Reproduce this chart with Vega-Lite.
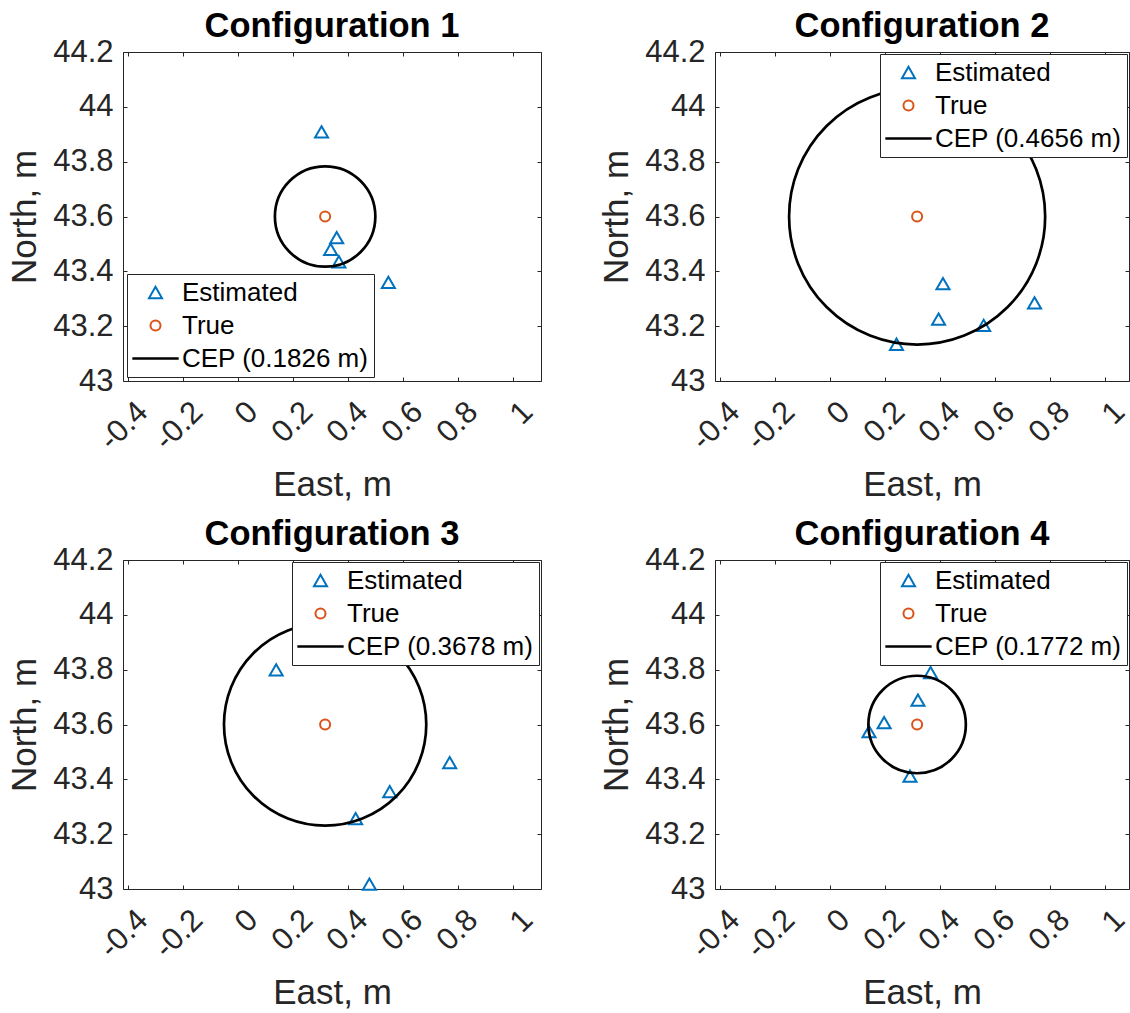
{
  "$schema": "https://vega.github.io/schema/vega-lite/v6.json",
  "background": "white",
  "padding": {"left": 7, "top": 8, "right": 0, "bottom": 0},
  "datasets": {
    "pts": [
      {"cfg": 1, "kind": "est", "series": "Estimated", "east": 0.305, "north": 43.909},
      {"cfg": 1, "kind": "est", "series": "Estimated", "east": 0.360, "north": 43.523},
      {"cfg": 1, "kind": "est", "series": "Estimated", "east": 0.338, "north": 43.480},
      {"cfg": 1, "kind": "est", "series": "Estimated", "east": 0.368, "north": 43.435},
      {"cfg": 1, "kind": "est", "series": "Estimated", "east": 0.548, "north": 43.360},
      {"cfg": 1, "kind": "true", "series": "True", "east": 0.318, "north": 43.6},
      {"cfg": 1, "kind": "cep", "series": "CEP (0.1826 m)", "east": 0.318, "north": 43.6, "cep": 0.1826},
      {"cfg": 2, "kind": "est", "series": "Estimated", "east": 0.243, "north": 43.134},
      {"cfg": 2, "kind": "est", "series": "Estimated", "east": 0.412, "north": 43.355},
      {"cfg": 2, "kind": "est", "series": "Estimated", "east": 0.396, "north": 43.226},
      {"cfg": 2, "kind": "est", "series": "Estimated", "east": 0.560, "north": 43.203},
      {"cfg": 2, "kind": "est", "series": "Estimated", "east": 0.745, "north": 43.285},
      {"cfg": 2, "kind": "true", "series": "True", "east": 0.318, "north": 43.6},
      {"cfg": 2, "kind": "cep", "series": "CEP (0.4656 m)", "east": 0.318, "north": 43.6, "cep": 0.4656},
      {"cfg": 3, "kind": "est", "series": "Estimated", "east": 0.140, "north": 43.799},
      {"cfg": 3, "kind": "est", "series": "Estimated", "east": 0.771, "north": 43.461},
      {"cfg": 3, "kind": "est", "series": "Estimated", "east": 0.553, "north": 43.355},
      {"cfg": 3, "kind": "est", "series": "Estimated", "east": 0.429, "north": 43.257},
      {"cfg": 3, "kind": "est", "series": "Estimated", "east": 0.479, "north": 43.018},
      {"cfg": 3, "kind": "true", "series": "True", "east": 0.318, "north": 43.6},
      {"cfg": 3, "kind": "cep", "series": "CEP (0.3678 m)", "east": 0.318, "north": 43.6, "cep": 0.3678},
      {"cfg": 4, "kind": "est", "series": "Estimated", "east": 0.367, "north": 43.789},
      {"cfg": 4, "kind": "est", "series": "Estimated", "east": 0.321, "north": 43.689},
      {"cfg": 4, "kind": "est", "series": "Estimated", "east": 0.198, "north": 43.607},
      {"cfg": 4, "kind": "est", "series": "Estimated", "east": 0.143, "north": 43.574},
      {"cfg": 4, "kind": "est", "series": "Estimated", "east": 0.292, "north": 43.412},
      {"cfg": 4, "kind": "true", "series": "True", "east": 0.318, "north": 43.6},
      {"cfg": 4, "kind": "cep", "series": "CEP (0.1772 m)", "east": 0.318, "north": 43.6, "cep": 0.1772}
    ]
  },
  "columns": 2,
  "bounds": "flush",
  "spacing": {"row": 179, "column": 174},
  "concat": [
    {
      "width": 418, "height": 329,
      "title": "Configuration 1",
      "data": {"name": "pts"},
      "transform": [{"filter": "datum.cfg === 1"}],
      "layer": [
        {
          "transform": [{"filter": "datum.kind === 'est'"}],
          "mark": {"type": "point", "filled": false, "size": 170, "strokeWidth": 2, "opacity": 1},
          "encoding": {
            "x": {"field": "east", "type": "quantitative", "scale": {"domain": [-0.417, 1.103], "nice": false, "zero": false},
              "axis": {"orient": "bottom", "values": [-0.4, -0.2, 0, 0.2, 0.4, 0.6, 0.8, 1], "labelAngle": -45, "labelAlign": "right", "labelBaseline": "middle", "labelOffset": 15, "labelPadding": 30, "labelFlush": false, "labelOverlap": false, "labelExpr": "replace(format(datum.value, '.1~f'), '\u2212', '-')", "title": "East, m", "titleY": 114, "titleBaseline": "alphabetic"}},
            "y": {"field": "north", "type": "quantitative", "scale": {"domain": [43, 44.2], "nice": false, "zero": false},
              "axis": {"orient": "left", "values": [43, 43.2, 43.4, 43.6, 43.8, 44, 44.2], "format": ".1~f", "labelPadding": 14, "labelFlush": false, "labelOverlap": false, "title": "North, m", "titleX": -88, "titleBaseline": "alphabetic"}},
            "color": {"field": "series", "type": "nominal", "title": null, "scale": {"domain": ["Estimated", "True", "CEP (0.1826 m)"], "range": ["#0072BD", "#D95319", "#000000"]},
              "legend": {"title": null, "orient": "bottom-left", "offset": 4, "direction": "vertical"}},
            "shape": {"field": "series", "type": "nominal", "title": null, "scale": {"domain": ["Estimated", "True", "CEP (0.1826 m)"], "range": ["triangle-up", "M0.77,0A0.77,0.77,0,1,1,-0.77,0A0.77,0.77,0,1,1,0.77,0Z", "M-3.4,-0.05H3.4V0.05H-3.4Z"]}}
          }
        },
        {
          "transform": [{"filter": "datum.kind === 'true'"}],
          "mark": {"type": "point", "filled": false, "size": 170, "strokeWidth": 2, "opacity": 1},
          "encoding": {
            "x": {"field": "east", "type": "quantitative", "axis": {"orient": "top", "values": [-0.4, -0.2, 0, 0.2, 0.4, 0.6, 0.8, 1], "labels": false, "title": null}},
            "y": {"field": "north", "type": "quantitative", "axis": {"orient": "right", "values": [43, 43.2, 43.4, 43.6, 43.8, 44, 44.2], "labels": false, "title": null}},
            "color": {"field": "series", "type": "nominal", "title": null},
            "shape": {"field": "series", "type": "nominal", "title": null}
          }
        },
        {
          "transform": [{"filter": "datum.kind === 'cep'"}],
          "mark": {"type": "point", "shape": "circle", "filled": false, "strokeWidth": 2.7, "opacity": 1},
          "encoding": {
            "x": {"field": "east", "type": "quantitative", "axis": null},
            "y": {"field": "north", "type": "quantitative", "axis": null},
            "color": {"field": "series", "type": "nominal", "title": null},
            "size": {"field": "cep", "type": "quantitative", "legend": null, "scale": {"type": "pow", "exponent": 2, "domain": [0, 1], "range": [0, 302500]}}
          }
        }
      ],
      "resolve": {"axis": {"x": "independent", "y": "independent"}}
    },
    {
      "width": 414, "height": 329,
      "title": "Configuration 2",
      "data": {"name": "pts"},
      "transform": [{"filter": "datum.cfg === 2"}],
      "layer": [
        {
          "transform": [{"filter": "datum.kind === 'est'"}],
          "mark": {"type": "point", "filled": false, "size": 170, "strokeWidth": 2, "opacity": 1},
          "encoding": {
            "x": {"field": "east", "type": "quantitative", "scale": {"domain": [-0.417, 1.0885], "nice": false, "zero": false},
              "axis": {"orient": "bottom", "values": [-0.4, -0.2, 0, 0.2, 0.4, 0.6, 0.8, 1], "labelAngle": -45, "labelAlign": "right", "labelBaseline": "middle", "labelOffset": 15, "labelPadding": 30, "labelFlush": false, "labelOverlap": false, "labelExpr": "replace(format(datum.value, '.1~f'), '\u2212', '-')", "title": "East, m", "titleY": 114, "titleBaseline": "alphabetic"}},
            "y": {"field": "north", "type": "quantitative", "scale": {"domain": [43, 44.2], "nice": false, "zero": false},
              "axis": {"orient": "left", "values": [43, 43.2, 43.4, 43.6, 43.8, 44, 44.2], "format": ".1~f", "labelPadding": 14, "labelFlush": false, "labelOverlap": false, "title": "North, m", "titleX": -88, "titleBaseline": "alphabetic"}},
            "color": {"field": "series", "type": "nominal", "title": null, "scale": {"domain": ["Estimated", "True", "CEP (0.4656 m)"], "range": ["#0072BD", "#D95319", "#000000"]},
              "legend": {"title": null, "orient": "top-right", "offset": 2, "direction": "vertical"}},
            "shape": {"field": "series", "type": "nominal", "title": null, "scale": {"domain": ["Estimated", "True", "CEP (0.4656 m)"], "range": ["triangle-up", "M0.77,0A0.77,0.77,0,1,1,-0.77,0A0.77,0.77,0,1,1,0.77,0Z", "M-3.4,-0.05H3.4V0.05H-3.4Z"]}}
          }
        },
        {
          "transform": [{"filter": "datum.kind === 'true'"}],
          "mark": {"type": "point", "filled": false, "size": 170, "strokeWidth": 2, "opacity": 1},
          "encoding": {
            "x": {"field": "east", "type": "quantitative", "axis": {"orient": "top", "values": [-0.4, -0.2, 0, 0.2, 0.4, 0.6, 0.8, 1], "labels": false, "title": null}},
            "y": {"field": "north", "type": "quantitative", "axis": {"orient": "right", "values": [43, 43.2, 43.4, 43.6, 43.8, 44, 44.2], "labels": false, "title": null}},
            "color": {"field": "series", "type": "nominal", "title": null},
            "shape": {"field": "series", "type": "nominal", "title": null}
          }
        },
        {
          "transform": [{"filter": "datum.kind === 'cep'"}],
          "mark": {"type": "point", "shape": "circle", "filled": false, "strokeWidth": 2.7, "opacity": 1},
          "encoding": {
            "x": {"field": "east", "type": "quantitative", "axis": null},
            "y": {"field": "north", "type": "quantitative", "axis": null},
            "color": {"field": "series", "type": "nominal", "title": null},
            "size": {"field": "cep", "type": "quantitative", "legend": null, "scale": {"type": "pow", "exponent": 2, "domain": [0, 1], "range": [0, 302500]}}
          }
        }
      ],
      "resolve": {"axis": {"x": "independent", "y": "independent"}}
    },
    {
      "width": 418, "height": 329,
      "title": "Configuration 3",
      "data": {"name": "pts"},
      "transform": [{"filter": "datum.cfg === 3"}],
      "layer": [
        {
          "transform": [{"filter": "datum.kind === 'est'"}],
          "mark": {"type": "point", "filled": false, "size": 170, "strokeWidth": 2, "opacity": 1},
          "encoding": {
            "x": {"field": "east", "type": "quantitative", "scale": {"domain": [-0.417, 1.103], "nice": false, "zero": false},
              "axis": {"orient": "bottom", "values": [-0.4, -0.2, 0, 0.2, 0.4, 0.6, 0.8, 1], "labelAngle": -45, "labelAlign": "right", "labelBaseline": "middle", "labelOffset": 15, "labelPadding": 30, "labelFlush": false, "labelOverlap": false, "labelExpr": "replace(format(datum.value, '.1~f'), '\u2212', '-')", "title": "East, m", "titleY": 114, "titleBaseline": "alphabetic"}},
            "y": {"field": "north", "type": "quantitative", "scale": {"domain": [43, 44.2], "nice": false, "zero": false},
              "axis": {"orient": "left", "values": [43, 43.2, 43.4, 43.6, 43.8, 44, 44.2], "format": ".1~f", "labelPadding": 14, "labelFlush": false, "labelOverlap": false, "title": "North, m", "titleX": -88, "titleBaseline": "alphabetic"}},
            "color": {"field": "series", "type": "nominal", "title": null, "scale": {"domain": ["Estimated", "True", "CEP (0.3678 m)"], "range": ["#0072BD", "#D95319", "#000000"]},
              "legend": {"title": null, "orient": "top-right", "offset": 2, "direction": "vertical"}},
            "shape": {"field": "series", "type": "nominal", "title": null, "scale": {"domain": ["Estimated", "True", "CEP (0.3678 m)"], "range": ["triangle-up", "M0.77,0A0.77,0.77,0,1,1,-0.77,0A0.77,0.77,0,1,1,0.77,0Z", "M-3.4,-0.05H3.4V0.05H-3.4Z"]}}
          }
        },
        {
          "transform": [{"filter": "datum.kind === 'true'"}],
          "mark": {"type": "point", "filled": false, "size": 170, "strokeWidth": 2, "opacity": 1},
          "encoding": {
            "x": {"field": "east", "type": "quantitative", "axis": {"orient": "top", "values": [-0.4, -0.2, 0, 0.2, 0.4, 0.6, 0.8, 1], "labels": false, "title": null}},
            "y": {"field": "north", "type": "quantitative", "axis": {"orient": "right", "values": [43, 43.2, 43.4, 43.6, 43.8, 44, 44.2], "labels": false, "title": null}},
            "color": {"field": "series", "type": "nominal", "title": null},
            "shape": {"field": "series", "type": "nominal", "title": null}
          }
        },
        {
          "transform": [{"filter": "datum.kind === 'cep'"}],
          "mark": {"type": "point", "shape": "circle", "filled": false, "strokeWidth": 2.7, "opacity": 1},
          "encoding": {
            "x": {"field": "east", "type": "quantitative", "axis": null},
            "y": {"field": "north", "type": "quantitative", "axis": null},
            "color": {"field": "series", "type": "nominal", "title": null},
            "size": {"field": "cep", "type": "quantitative", "legend": null, "scale": {"type": "pow", "exponent": 2, "domain": [0, 1], "range": [0, 302500]}}
          }
        }
      ],
      "resolve": {"axis": {"x": "independent", "y": "independent"}}
    },
    {
      "width": 414, "height": 329,
      "title": "Configuration 4",
      "data": {"name": "pts"},
      "transform": [{"filter": "datum.cfg === 4"}],
      "layer": [
        {
          "transform": [{"filter": "datum.kind === 'est'"}],
          "mark": {"type": "point", "filled": false, "size": 170, "strokeWidth": 2, "opacity": 1},
          "encoding": {
            "x": {"field": "east", "type": "quantitative", "scale": {"domain": [-0.417, 1.0885], "nice": false, "zero": false},
              "axis": {"orient": "bottom", "values": [-0.4, -0.2, 0, 0.2, 0.4, 0.6, 0.8, 1], "labelAngle": -45, "labelAlign": "right", "labelBaseline": "middle", "labelOffset": 15, "labelPadding": 30, "labelFlush": false, "labelOverlap": false, "labelExpr": "replace(format(datum.value, '.1~f'), '\u2212', '-')", "title": "East, m", "titleY": 114, "titleBaseline": "alphabetic"}},
            "y": {"field": "north", "type": "quantitative", "scale": {"domain": [43, 44.2], "nice": false, "zero": false},
              "axis": {"orient": "left", "values": [43, 43.2, 43.4, 43.6, 43.8, 44, 44.2], "format": ".1~f", "labelPadding": 14, "labelFlush": false, "labelOverlap": false, "title": "North, m", "titleX": -88, "titleBaseline": "alphabetic"}},
            "color": {"field": "series", "type": "nominal", "title": null, "scale": {"domain": ["Estimated", "True", "CEP (0.1772 m)"], "range": ["#0072BD", "#D95319", "#000000"]},
              "legend": {"title": null, "orient": "top-right", "offset": 2, "direction": "vertical"}},
            "shape": {"field": "series", "type": "nominal", "title": null, "scale": {"domain": ["Estimated", "True", "CEP (0.1772 m)"], "range": ["triangle-up", "M0.77,0A0.77,0.77,0,1,1,-0.77,0A0.77,0.77,0,1,1,0.77,0Z", "M-3.4,-0.05H3.4V0.05H-3.4Z"]}}
          }
        },
        {
          "transform": [{"filter": "datum.kind === 'true'"}],
          "mark": {"type": "point", "filled": false, "size": 170, "strokeWidth": 2, "opacity": 1},
          "encoding": {
            "x": {"field": "east", "type": "quantitative", "axis": {"orient": "top", "values": [-0.4, -0.2, 0, 0.2, 0.4, 0.6, 0.8, 1], "labels": false, "title": null}},
            "y": {"field": "north", "type": "quantitative", "axis": {"orient": "right", "values": [43, 43.2, 43.4, 43.6, 43.8, 44, 44.2], "labels": false, "title": null}},
            "color": {"field": "series", "type": "nominal", "title": null},
            "shape": {"field": "series", "type": "nominal", "title": null}
          }
        },
        {
          "transform": [{"filter": "datum.kind === 'cep'"}],
          "mark": {"type": "point", "shape": "circle", "filled": false, "strokeWidth": 2.7, "opacity": 1},
          "encoding": {
            "x": {"field": "east", "type": "quantitative", "axis": null},
            "y": {"field": "north", "type": "quantitative", "axis": null},
            "color": {"field": "series", "type": "nominal", "title": null},
            "size": {"field": "cep", "type": "quantitative", "legend": null, "scale": {"type": "pow", "exponent": 2, "domain": [0, 1], "range": [0, 302500]}}
          }
        }
      ],
      "resolve": {"axis": {"x": "independent", "y": "independent"}}
    }
  ],
  "resolve": {
    "scale": {"x": "independent", "y": "independent", "color": "independent", "shape": "independent", "size": "independent"},
    "legend": {"color": "independent", "shape": "independent"}
  },
  "config": {
    "font": "Liberation Sans",
    "view": {"stroke": null},
    "axis": {
      "grid": false,
      "domainColor": "#262626", "domainWidth": 1,
      "tickColor": "#262626", "tickWidth": 1, "tickSize": -4,
      "labelColor": "#262626", "labelFont": "Liberation Sans", "labelFontSize": 31,
      "titleColor": "#262626", "titleFont": "Liberation Sans", "titleFontSize": 35, "titleFontWeight": "normal"
    },
    "legend": {
      "labelFont": "Liberation Sans", "labelFontSize": 26, "labelColor": "#000000", "labelLimit": 600,
      "fillColor": "#FFFFFF", "strokeColor": "#262626", "strokeWidth": 1, "cornerRadius": 0,
      "padding": 5.5, "rowPadding": 7, "symbolSize": 170, "symbolStrokeWidth": 2, "labelOffset": 13.5, "symbolOffset": 10
    },
    "title": {"font": "Liberation Sans", "fontSize": 34.5, "fontWeight": "bold", "color": "#000000", "baseline": "alphabetic", "offset": -8, "anchor": "middle"}
  }
}
